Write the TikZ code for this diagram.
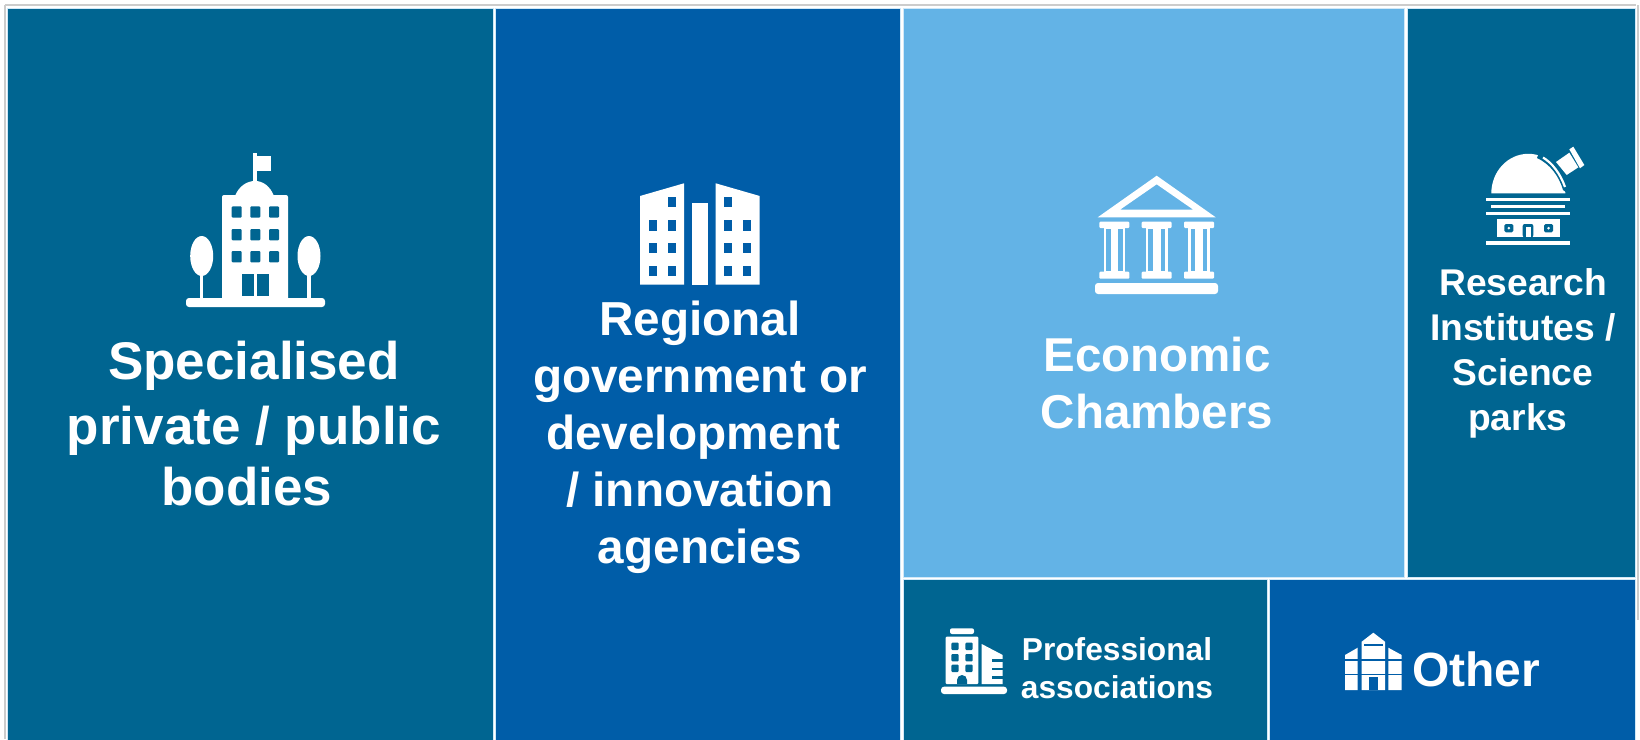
\documentclass[tikz,border=0pt]{standalone}
\usepackage{fontspec}
\setmainfont{Liberation Sans}
\definecolor{tealtile}{HTML}{006591}
\definecolor{bluetile}{HTML}{005DA8}
\definecolor{skytile}{HTML}{63B3E6}
\tikzset{tile/.style={draw=white!70!skytile, line width=1pt, inner sep=0pt, outer sep=0pt},
 caption/.style={text=white, align=center, font=\bfseries},
 icon/.style={fill=white, draw=none},
}

\begin{document}
\begin{tikzpicture}[x=1pt, y=-1pt]
        \useasboundingbox (0, 0) rectangle (1640, 739);
        \fill[white] (0, 0) rectangle (1640, 739);
        \draw[line width=2pt, gray!40] (5, 5) -- (1636, 5);
        \draw[line width=1.5pt, gray!40] (5, 5) -- (5, 739);
        \draw[line width=1.5pt, gray!40] (1638, 5) -- (1638, 620);

        % tiles
        \node[tile, fill=tealtile, minimum width=486, minimum height=732] (bodies) at (250, 374) {};
        \node[tile, fill=bluetile, minimum width=404.5, minimum height=732] (agencies) at (697.75, 374) {};
        \node[tile, fill=skytile, minimum width=501, minimum height=569] (chambers) at (1153.5, 292.5) {};
        \node[tile, fill=tealtile, minimum width=228, minimum height=569] (institutes) at (1521, 292.5) {};
        \node[tile, fill=tealtile, minimum width=364, minimum height=160.5] (associations) at (1085, 659.75) {};
        \node[tile, fill=bluetile, minimum width=365.5, minimum height=160.5] (other) at (1452.25, 659.75) {};

        % captions
        \node[caption, font=\bfseries\fontsize{53}{64.5}\selectfont] (bodiestext) at (254, 424) {Specialised\\private / public\\[-3pt]bodies~\mbox{}};
        \node[caption, font=\bfseries\fontsize{47.7}{57}\selectfont] (agenciestext) at (700, 437.5) {Regional\\government or\\development~\mbox{}\\/ innovation\\agencies};
        \node[caption, font=\bfseries\fontsize{47.5}{57}\selectfont] (chamberstext) at (1157, 383) {Economic\\Chambers};
        \node[caption, font=\bfseries\fontsize{37.2}{45}\selectfont] (institutestext) at (1523, 353) {Research\\Institutes /\\Science\\parks~\mbox{}};
        \node[caption, font=\bfseries\fontsize{31.7}{37.6}\selectfont] (associationstext) at (1117, 668) {Professional\\associations};
        \node[caption, font=\bfseries\fontsize{48}{57}\selectfont] (othertext) at (1476, 669) {Other};

        % specialised bodies icon
        \fill[icon, rounded corners=3pt] (186, 298) rectangle (325, 307);
        \fill[icon, rounded corners=2pt] (222, 195) rectangle (288, 300);
        \fill[icon] (235, 196) .. controls (239, 186) and (247, 181) .. (255, 181) .. controls (263, 181) and (270, 186) .. (274, 196) -- cycle;
        \fill[icon] (253.3, 153) rectangle (257.3, 182);
        \fill[icon] (257, 156) rectangle (270.7, 170.7);
        \foreach \wx in {231.7, 250.3, 269} {
            \foreach \wy in {206.3, 229, 251} {
                \fill[tealtile, rounded corners=1pt] (\wx, \wy) rectangle (\wx+10, \wy+11.3);
            }
        }
        \fill[tealtile] (241.7, 274) rectangle (254, 296);
        \fill[tealtile] (256.7, 274) rectangle (269.3, 296);
        \foreach \tx in {201.7, 309} {
            \fill[icon] (\tx, 256) ellipse [x radius=11.5pt, y radius=20pt];
            \fill[icon] (\tx-1.7, 270) rectangle (\tx+1.7, 300);
        }

        % agencies icon
        \fill[icon] (640, 196) -- (684, 183.3) -- (684, 284.7) -- (640, 284.7) -- cycle;
        \fill[icon] (692.3, 203.3) rectangle (707.7, 284.7);
        \fill[icon] (715.7, 183.3) -- (759.7, 196) -- (759.7, 284.7) -- (715.7, 284.7) -- cycle;
        \foreach \wy in {220.3, 243, 266} {
            \foreach \wx in {649, 667.7, 724, 742.7} {
                \fill[bluetile] (\wx, \wy) rectangle (\wx+8, \wy+10.4);
            }
        }
        \fill[bluetile] (667.7, 196.7) rectangle (675.7, 207.3);
        \fill[bluetile] (724, 196.7) rectangle (732, 207.3);

        % chambers icon
        \fill[icon, even odd rule] (1156.7, 175.7) -- (1215.7, 217.3) -- (1097.7, 217.3) -- cycle
            (1156.7, 184.3) -- (1120, 209.7) -- (1193.3, 209.7) -- cycle;
        \foreach \cx in {0, 42.3, 84.7} {
            \fill[icon, rounded corners=1pt] (1099.3+\cx, 221.7) rectangle (1129.3+\cx, 228);
            \fill[icon] (1103.7+\cx, 227) rectangle (1125.3+\cx, 272);
            \fill[skytile] (1106+\cx, 229) rectangle (1110.7+\cx, 271);
            \fill[skytile] (1118.3+\cx, 229) rectangle (1122.7+\cx, 271);
            \fill[icon, rounded corners=1pt] (1099.3+\cx, 271.7) rectangle (1129.3+\cx, 278.7);
        }
        \fill[icon, rounded corners=3pt] (1095, 283) rectangle (1218, 294);

        % institutes icon
        \fill[icon] (1491.3, 193.3) arc[start angle=180, end angle=0, x radius=37pt, y radius=39.5pt] -- cycle;
        \fill[tealtile] (1537, 158) .. controls (1550, 164) and (1559, 176) .. (1563, 190) -- (1570, 195) -- (1570, 150) -- (1540, 150) -- cycle;
        \draw[white, line width=2.2pt] (1543, 157.5) .. controls (1552, 163) and (1560, 173) .. (1565, 187);
        \fill[icon] (1556, 162) -- (1569.3, 152.7) -- (1578.3, 167.3) -- (1566.7, 175) -- cycle;
        \fill[icon] (1569.3, 149.3) -- (1573.3, 146.7) -- (1584.3, 165) -- (1580, 168.3) -- cycle;
        \fill[icon] (1486.3, 197.7) rectangle (1570, 201);
        \fill[icon] (1491.3, 204.7) rectangle (1565, 208.3);
        \fill[icon] (1486.3, 211.7) rectangle (1570, 215);
        \fill[icon] (1496.7, 219) rectangle (1560, 237.3);
        \fill[icon] (1486.3, 241) rectangle (1570, 244.7);
        \foreach \wx in {1504.3, 1544} {
            \fill[tealtile, rounded corners=1.5pt, even odd rule] (\wx, 224) rectangle (\wx+9, 232.3)
                (\wx+3, 226.5) rectangle (\wx+6, 229.8);
        }
        \fill[tealtile, rounded corners=2pt] (1522.7, 237.3) -- (1522.7, 224) -- (1533.3, 224) -- (1533.3, 237.3) -- cycle;
        \fill[icon] (1525.5, 237.3) -- (1525.5, 227) -- (1530.5, 227) -- (1530.5, 237.3) -- cycle;

        % associations icon
        \fill[icon, rounded corners=2pt] (950, 628.3) rectangle (974, 634);
        \fill[icon, rounded corners=1pt] (945.7, 636.7) rectangle (978.3, 684);
        \foreach \wx in {951.3, 965.3} {
            \foreach \wy in {642.7, 654, 664.7} {
                \fill[tealtile, rounded corners=1pt] (\wx, \wy) rectangle (\wx+7.4, \wy+7.3);
            }
        }
        \fill[tealtile] (957, 684) -- (957, 680) arc[start angle=180, end angle=0, radius=5pt] -- (967, 684) -- cycle;
        \fill[icon] (981.7, 644) -- (1002.7, 655) -- (1002.7, 684) -- (981.7, 684) -- cycle;
        \foreach \wy in {659.3, 667.7, 676} {
            \fill[tealtile] (991.7, \wy) rectangle (1003, \wy+2.5);
        }
        \fill[icon, rounded corners=3pt] (941, 686.7) rectangle (1007, 694);

        % other icon
        \fill[icon] (1373.3, 632.7) -- (1385, 641.7) -- (1385, 690) -- (1361.7, 690) -- (1361.7, 641.7) -- cycle;
        \fill[icon] (1345, 655) -- (1357.7, 647.7) -- (1357.7, 690) -- (1345, 690) -- cycle;
        \fill[icon] (1388.3, 647.7) -- (1401.7, 655) -- (1401.7, 690) -- (1388.3, 690) -- cycle;
        \foreach \wy in {659, 673.5} {
            \fill[bluetile] (1344, \wy) rectangle (1403, \wy+1.6);
        }
        \fill[bluetile] (1364, 644) rectangle (1383, 645.6);
        \fill[bluetile] (1369, 677.3) rectangle (1377.7, 690);
\end{tikzpicture}
\end{document}
